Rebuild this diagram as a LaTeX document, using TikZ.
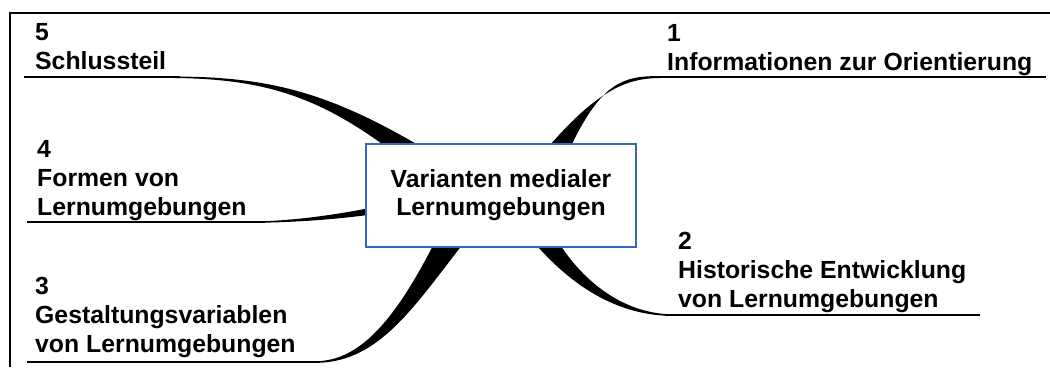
\documentclass[tikz,border=0pt]{standalone}
\usepackage{fontspec}
\setmainfont{Liberation Sans}
\definecolor{boxblue}{RGB}{52,104,184}
\begin{document}
\begin{tikzpicture}[x=1pt,y=-1pt,
  lbl/.style={anchor=base west,inner sep=0pt,font=\bfseries\fontsize{24.8}{29}\selectfont},
  uline/.style={line width=1.6pt},
  frame/.style={line width=2pt},
  branch/.style={fill=black,draw=none},
  centerbox/.style={draw=boxblue,line width=1.3pt,fill=white,minimum width=270pt,minimum height=103pt,
    align=center,inner sep=0pt,font=\bfseries\fontsize{24.8}{28}\selectfont}]
\useasboundingbox (0,0) rectangle (1050,367);
% frame
\draw[frame] (9,13) -- (1050,13);
\draw[frame] (10,12) -- (10,367);
% underlines
\coordinate (u5a) at (24,77);   \coordinate (u5b) at (180,77);
\coordinate (u1a) at (650,77);  \coordinate (u1b) at (1046,77);
\coordinate (u4a) at (27,222);  \coordinate (u4b) at (265,222);
\coordinate (u3a) at (27,362);  \coordinate (u3b) at (320,362);
\coordinate (u2a) at (665,315); \coordinate (u2b) at (980,315);
\draw[uline] (u5a) -- (u5b);
\draw[uline] (u1a) -- (u1b);
\draw[uline] (u4a) -- (u4b);
\draw[uline] (u3a) -- (u3b);
\draw[uline] (u2a) -- (u2b);
% tapered branches
\fill[branch] (175,76.5) .. controls (270,77) and (330,92) .. (430,152) -- (393,152)
   .. controls (320,97) and (265,79) .. (175,78) -- cycle;
\fill[branch] (665,76.5) .. controls (620,74) and (600,85) .. (568,152) -- (544,152)
   .. controls (595,92) and (625,78) .. (660,78) -- cycle;
\fill[branch] (262,221.3) .. controls (300,220) and (340,214) .. (375,207) -- (375,214)
   .. controls (340,219) and (300,222) .. (262,222.7) -- cycle;
\fill[branch] (317,362.8) .. controls (380,362) and (415,305) .. (466,240) -- (436,240)
   .. controls (400,310) and (365,360) .. (317,361.2) -- cycle;
\fill[branch] (668,315.8) .. controls (615,314) and (570,285) .. (532,240) -- (557,240)
   .. controls (585,285) and (625,312) .. (668,314.2) -- cycle;
% center box
\node[centerbox] (center) at (501,195.5) {Varianten medialer\\Lernumgebungen};
% labels
\node[lbl] (l5a) at (35,40) {5};
\node[lbl] (l5b) at (35,69) {Schlussteil};
\node[lbl] (l1a) at (667,41) {1};
\node[lbl] (l1b) at (667,70) {Informationen zur Orientierung};
\node[lbl] (l4a) at (37,157) {4};
\node[lbl] (l4b) at (37,186) {Formen von};
\node[lbl] (l4c) at (37,215) {Lernumgebungen};
\node[lbl] (l3a) at (35,294) {3};
\node[lbl] (l3b) at (35,323) {Gestaltungsvariablen};
\node[lbl] (l3c) at (35,352) {von Lernumgebungen};
\node[lbl] (l2a) at (678,249) {2};
\node[lbl] (l2b) at (678,278) {Historische Entwicklung};
\node[lbl] (l2c) at (678,307) {von Lernumgebungen};
\end{tikzpicture}
\end{document}
